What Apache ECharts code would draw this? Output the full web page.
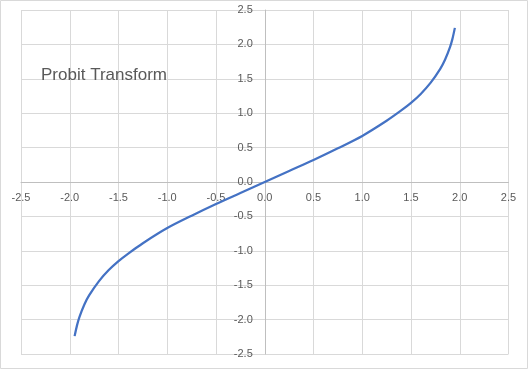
<!DOCTYPE html>
<html>
<head>
<meta charset="utf-8">
<script src="https://cdn.jsdelivr.net/npm/echarts@6/dist/echarts.min.js"></script>
<style>
html,body{margin:0;padding:0;background:#fff;}
#chart{width:529px;height:370px;}
</style>
</head>
<body>
<div id="chart"></div>
<script>
const titleText = 'Probit Transform';
const xValues = [-1.95,-1.925,-1.9,-1.85,-1.8,-1.7,-1.6,-1.5,-1.4,-1.25,-1.0,-0.75,-0.5,-0.25,0,0.25,0.5,0.75,1.0,1.25,1.4,1.5,1.6,1.7,1.8,1.85,1.9,1.925,1.95];
const yValues = [-2.24,-2.08,-1.96,-1.78,-1.645,-1.44,-1.28,-1.15,-1.04,-0.89,-0.67,-0.49,-0.32,-0.16,0,0.16,0.32,0.49,0.67,0.89,1.04,1.15,1.28,1.44,1.645,1.78,1.96,2.08,2.24];
const axisMin = -2.5, axisMax = 2.5, axisStep = 0.5;

const W = 529, H = 370;
const gridLeft = 21, gridRight = 20.5, gridTop = 10, gridBottom = 16;
const plotW = W - gridLeft - gridRight, plotH = H - gridTop - gridBottom;
// axes cross at the origin: shift each axis from its grid edge to the zero line
const xAxisOffset = -plotH * (0 - axisMin) / (axisMax - axisMin);
const yAxisOffset = -plotW * (0 - axisMin) / (axisMax - axisMin);

const chart = echarts.init(document.getElementById('chart'));
const labelStyle = {color:'#595959', fontSize:11, fontFamily:'Liberation Sans', formatter: v => v.toFixed(1)};
chart.setOption({
  animation:false,
  title:{text:titleText, left:41, top:67, padding:0,
    textStyle:{fontFamily:'Liberation Sans', fontSize:17, fontWeight:'normal', color:'#595959'}},
  graphic:[{type:'rect', shape:{x:0.5,y:0.5,width:527,height:368}, style:{fill:null, stroke:'#d9d9d9', lineWidth:1}, silent:true}],
  grid:{left:gridLeft, right:gridRight, top:gridTop, bottom:gridBottom, outerBoundsMode:'none', containLabel:false},
  xAxis:{type:'value', min:axisMin, max:axisMax, interval:axisStep, offset:xAxisOffset,
    axisLine:{onZero:false, lineStyle:{color:'#bfbfbf', width:1}},
    axisTick:{show:false},
    axisLabel:Object.assign({margin:10}, labelStyle),
    splitLine:{show:true, lineStyle:{color:'#d9d9d9', width:1}}},
  yAxis:{type:'value', min:axisMin, max:axisMax, interval:axisStep, offset:yAxisOffset,
    axisLine:{show:true, onZero:false, lineStyle:{color:'#bfbfbf', width:1}},
    axisTick:{show:false},
    axisLabel:Object.assign({margin:12}, labelStyle),
    splitLine:{show:true, lineStyle:{color:'#d9d9d9', width:1}}},
  series:[{type:'line', data:xValues.map((x,i)=>[x,yValues[i]]), smooth:0.3, showSymbol:false,
    lineStyle:{color:'#4472C4', width:2.25}}]
});
</script>
</body>
</html>
